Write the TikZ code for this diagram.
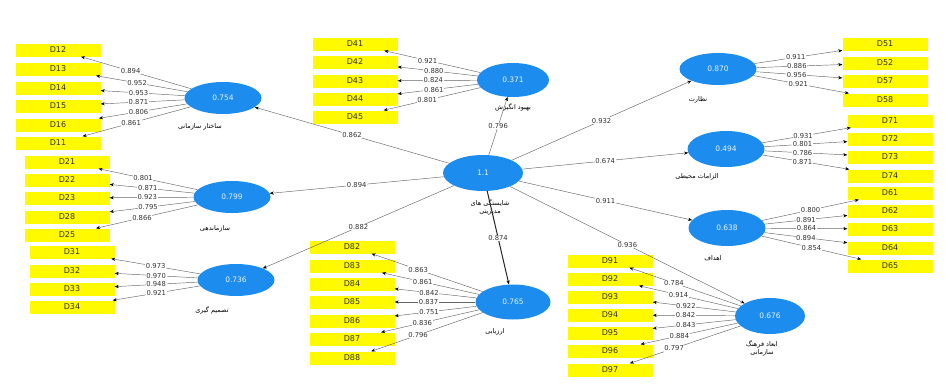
\documentclass[tikz,border=0pt]{standalone}
\usepackage{fontspec}
\setmainfont{DejaVu Sans}
\newfontfamily\arabicfont[Script=Arabic]{DejaVu Sans}
\TeXXeTstate=1
\usetikzlibrary{arrows.meta,shapes.geometric}

\definecolor{itemyellow}{RGB}{255,250,0}
\definecolor{latentblue}{RGB}{28,140,238}
\newcommand{\fa}[1]{{\arabicfont\beginR #1\endR}}

\begin{document}
\begin{tikzpicture}[x=1pt,y=-1pt]
\useasboundingbox (0,0) rectangle (945,383);

% indicators
\begin{scope}[every node/.style={rectangle,fill=itemyellow,minimum width=85pt,minimum height=13pt,inner sep=0pt,text=black!80,font=\fontsize{8}{8}\selectfont}]
    \node (d12) at (58,50) {D12};
    \node (d13) at (58,69) {D13};
    \node (d14) at (58,88) {D14};
    \node (d15) at (58,106) {D15};
    \node (d16) at (58,125) {D16};
    \node (d11) at (58,143) {D11};

    \node (d21) at (67,162) {D21};
    \node (d22) at (67,180) {D22};
    \node (d23) at (67,198) {D23};
    \node (d28) at (67,217) {D28};
    \node (d25) at (67,235) {D25};

    \node (d31) at (72,252) {D31};
    \node (d32) at (72,271) {D32};
    \node (d33) at (72,289) {D33};
    \node (d34) at (72,307) {D34};

    \node (d41) at (355,44) {D41};
    \node (d42) at (355,62) {D42};
    \node (d43) at (355,81) {D43};
    \node (d44) at (355,99) {D44};
    \node (d45) at (355,117) {D45};

    \node (d82) at (352,247) {D82};
    \node (d83) at (352,266) {D83};
    \node (d84) at (352,284) {D84};
    \node (d85) at (352,302) {D85};
    \node (d86) at (352,321) {D86};
    \node (d87) at (352,339) {D87};
    \node (d88) at (352,358) {D88};

    \node (d91) at (610,261) {D91};
    \node (d92) at (610,279) {D92};
    \node (d93) at (610,297) {D93};
    \node (d94) at (610,315) {D94};
    \node (d95) at (610,333) {D95};
    \node (d96) at (610,351) {D96};
    \node (d97) at (610,370) {D97};

    \node (d51) at (885,44) {D51};
    \node (d52) at (885,63) {D52};
    \node (d57) at (885,81) {D57};
    \node (d58) at (885,100) {D58};

    \node (d71) at (890,121) {D71};
    \node (d72) at (890,139) {D72};
    \node (d73) at (890,157) {D73};
    \node (d74) at (890,176) {D74};
    \node (d61) at (890,193) {D61};
    \node (d62) at (890,211) {D62};
    \node (d63) at (890,229) {D63};
    \node (d64) at (890,248) {D64};
    \node (d65) at (890,266) {D65};
\end{scope}

% constructs
\begin{scope}[every node/.style={ellipse,fill=latentblue,inner sep=0pt,minimum width=77pt,minimum height=32pt,text=white!90!latentblue,font=\fontsize{7.5}{8}\selectfont}]
    \node (core) at (483,173) [minimum width=80pt,minimum height=36pt] {1.1};
    \node (e754) at (223,98) {0.754};
    \node (e799) at (232,197) {0.799};
    \node (e736) at (236,280) {0.736};
    \node (e371) at (513,80) [minimum width=72pt,minimum height=34pt] {0.371};
    \node (e765) at (513,302) [minimum width=75pt,minimum height=35pt] {0.765};
    \node (e676) at (770,316) [minimum width=70pt,minimum height=36pt] {0.676};
    \node (e870) at (718,69) {0.870};
    \node (e494) at (726,149) [minimum height=36pt] {0.494};
    \node (e638) at (727,228) [minimum height=36pt] {0.638};
\end{scope}

% construct names
\begin{scope}[every node/.style={inner sep=0pt,align=center,font=\fontsize{6.5}{8}\selectfont}]
    \node (core_name) at (490,207) {\fa{شایستگی های}\\\fa{مدیریتی}};
    \node (e754_name) at (200,127) {\fa{ساختار سازمانی}};
    \node (e799_name) at (215,229) {\fa{سازماندهی}};
    \node (e736_name) at (212,310) {\fa{تصمیم گیری}};
    \node (e371_name) at (513,107) {\fa{بهبود انگیزش}};
    \node (e765_name) at (495,332) {\fa{ارزیابی}};
    \node (e676_name) at (762,348) {\fa{ابعاد فرهنگ}\\\fa{سازمانی}};
    \node (e870_name) at (698,100) {\fa{نظارت}};
    \node (e494_name) at (697,177) {\fa{الزامات محیطی}};
    \node (e638_name) at (713,258) {\fa{اهداف}};
\end{scope}

\begin{scope}[>={Stealth[black,length=4pt,width=3.2pt]},
              every node/.style={fill=white,inner sep=0.6pt,text=black!80,font=\fontsize{6.8}{7}\selectfont},
              every edge/.style={draw=black!60,line width=0.45pt}]
    % structural paths
    \path [->] (core) edge node {0.862} (e754);
    \path [->] (core) edge node {0.894} (e799);
    \path [->] (core) edge node {0.882} (e736);
    \path [->] (core) edge node {0.796} (e371);
    \path [->] (core) edge node {0.932} (e870);
    \path [->] (core) edge node {0.674} (e494);
    \path [->] (core) edge node {0.911} (e638);
    \path [->] (core) edge node {0.936} (e676);
    \path [->] (core) edge [draw=black!85,line width=1pt] node {0.874} (e765);

    % loadings
    \path [->] (e754) edge node[pos=0.55] {0.894} (d12);
    \path [->] (e754) edge node[pos=0.55] {0.952} (d13);
    \path [->] (e754) edge node[pos=0.55] {0.953} (d14);
    \path [->] (e754) edge node[pos=0.55] {0.871} (d15);
    \path [->] (e754) edge node[pos=0.55] {0.806} (d16);
    \path [->] (e754) edge node[pos=0.55] {0.861} (d11);

    \path [->] (e799) edge node[pos=0.55] {0.801} (d21);
    \path [->] (e799) edge node[pos=0.55] {0.871} (d22);
    \path [->] (e799) edge node[pos=0.55] {0.923} (d23);
    \path [->] (e799) edge node[pos=0.55] {0.795} (d28);
    \path [->] (e799) edge node[pos=0.55] {0.866} (d25);

    \path [->] (e736) edge node[pos=0.5] {0.973} (d31);
    \path [->] (e736) edge node[pos=0.5] {0.970} (d32);
    \path [->] (e736) edge node[pos=0.5] {0.948} (d33);
    \path [->] (e736) edge node[pos=0.5] {0.921} (d34);

    \path [->] (e371) edge node[pos=0.55] {0.921} (d41);
    \path [->] (e371) edge node[pos=0.55] {0.880} (d42);
    \path [->] (e371) edge node[pos=0.55] {0.824} (d43);
    \path [->] (e371) edge node[pos=0.55] {0.861} (d44);
    \path [->] (e371) edge node[pos=0.55] {0.801} (d45);

    \path [->] (e765) edge node[pos=0.58] {0.863} (d82);
    \path [->] (e765) edge node[pos=0.58] {0.861} (d83);
    \path [->] (e765) edge node[pos=0.58] {0.842} (d84);
    \path [->] (e765) edge node[pos=0.58] {0.837} (d85);
    \path [->] (e765) edge node[pos=0.58] {0.751} (d86);
    \path [->] (e765) edge node[pos=0.58] {0.836} (d87);
    \path [->] (e765) edge node[pos=0.58] {0.796} (d88);

    \path [->] (e676) edge node[pos=0.6] {0.784} (d91);
    \path [->] (e676) edge node[pos=0.6] {0.914} (d92);
    \path [->] (e676) edge node[pos=0.6] {0.922} (d93);
    \path [->] (e676) edge node[pos=0.6] {0.842} (d94);
    \path [->] (e676) edge node[pos=0.6] {0.843} (d95);
    \path [->] (e676) edge node[pos=0.6] {0.884} (d96);
    \path [->] (e676) edge node[pos=0.6] {0.797} (d97);

    \path [->] (e870) edge node[pos=0.47] {0.911} (d51);
    \path [->] (e870) edge node[pos=0.47] {0.886} (d52);
    \path [->] (e870) edge node[pos=0.47] {0.956} (d57);
    \path [->] (e870) edge node[pos=0.47] {0.921} (d58);

    \path [->] (e494) edge node[pos=0.46] {0.931} (d71);
    \path [->] (e494) edge node[pos=0.46] {0.801} (d72);
    \path [->] (e494) edge node[pos=0.46] {0.786} (d73);
    \path [->] (e494) edge node[pos=0.46] {0.871} (d74);

    \path [->] (e638) edge node[pos=0.5] {0.800} (d61);
    \path [->] (e638) edge node[pos=0.5] {0.891} (d62);
    \path [->] (e638) edge node[pos=0.5] {0.864} (d63);
    \path [->] (e638) edge node[pos=0.5] {0.894} (d64);
    \path [->] (e638) edge node[pos=0.5] {0.854} (d65);
\end{scope}
\end{tikzpicture}
\end{document}
